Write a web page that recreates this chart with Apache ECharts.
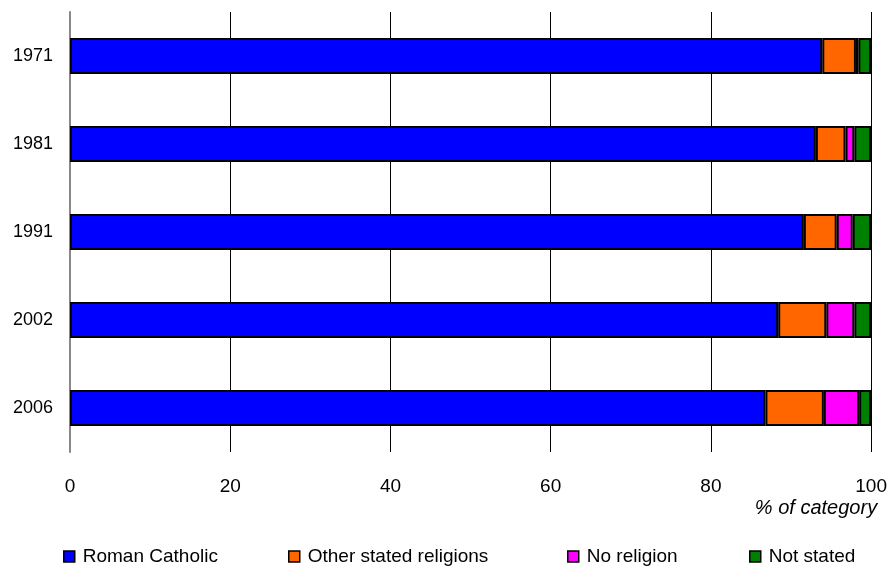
<!DOCTYPE html>
<html>
<head>
<meta charset="utf-8">
<script src="https://cdn.jsdelivr.net/npm/echarts@6/dist/echarts.min.js"></script>
<style>html,body{margin:0;padding:0;background:#fff}#c{width:890px;height:567px}</style>
</head>
<body>
<div id="c"></div>
<script>
const years = ['1971', '1981', '1991', '2002', '2006'];
const romanCatholic = [93.9, 93.1, 91.6, 88.4, 86.8];
const otherReligions = [4.2, 3.7, 4.1, 6.0, 7.3];
const noReligion = [0.3, 1.1, 2.0, 3.5, 4.4];
const notStated = [1.6, 2.1, 2.3, 2.1, 1.5];
const xTicks = [0, 20, 40, 60, 80, 100];
const seriesNames = ['Roman Catholic', 'Other stated religions', 'No religion', 'Not stated'];
const colors = ['#0000FF', '#FF6600', '#FF00FF', '#008000'];
const values = [romanCatholic, otherReligions, noReligion, notStated];

const font = 'Liberation Sans, Arial, sans-serif';
const chart = echarts.init(document.getElementById('c'));
const legendLefts = [63, 288, 567, 749];
chart.setOption({
  animation: false,
  color: colors,
  grid: { left: 70, right: 18, top: 12, bottom: 115, containLabel: false },
  xAxis: {
    type: 'value', min: xTicks[0], max: xTicks[xTicks.length - 1], interval: 20,
    name: '% of category', nameLocation: 'end',
    nameGap: 0,
    nameTextStyle: { fontFamily: font, fontSize: 20, fontStyle: 'italic', color: '#000', align: 'right', verticalAlign: 'top', padding: [46, -6, 0, 0] },
    axisLine: { show: false },
    axisTick: { show: false },
    axisLabel: { fontFamily: font, fontSize: 19, color: '#000', margin: 25 },
    splitLine: { show: true, lineStyle: { color: '#000', width: 1 } }
  },
  yAxis: {
    type: 'category', data: years, inverse: true,
    axisLine: { show: true, lineStyle: { color: '#888', width: 2 } },
    axisTick: { show: false },
    axisLabel: { fontFamily: font, fontSize: 18, color: '#000', margin: 17 }
  },
  legend: seriesNames.map((n, i) => ({
    data: [n], left: legendLefts[i], top: 547, padding: 0,
    itemWidth: 11, itemHeight: 11, itemGap: 4,
    icon: 'rect',
    itemStyle: { borderColor: '#000', borderWidth: 1.5 },
    textStyle: { fontFamily: font, fontSize: 19, color: '#000', padding: [0, 0, 0, 3] },
    selectedMode: false
  })),
  series: seriesNames.map((n, i) => ({
    name: n, type: 'bar', stack: 'total', data: values[i],
    barWidth: 36,
    itemStyle: { color: colors[i], borderColor: '#000', borderWidth: 2 }
  }))
});
</script>
</body>
</html>
